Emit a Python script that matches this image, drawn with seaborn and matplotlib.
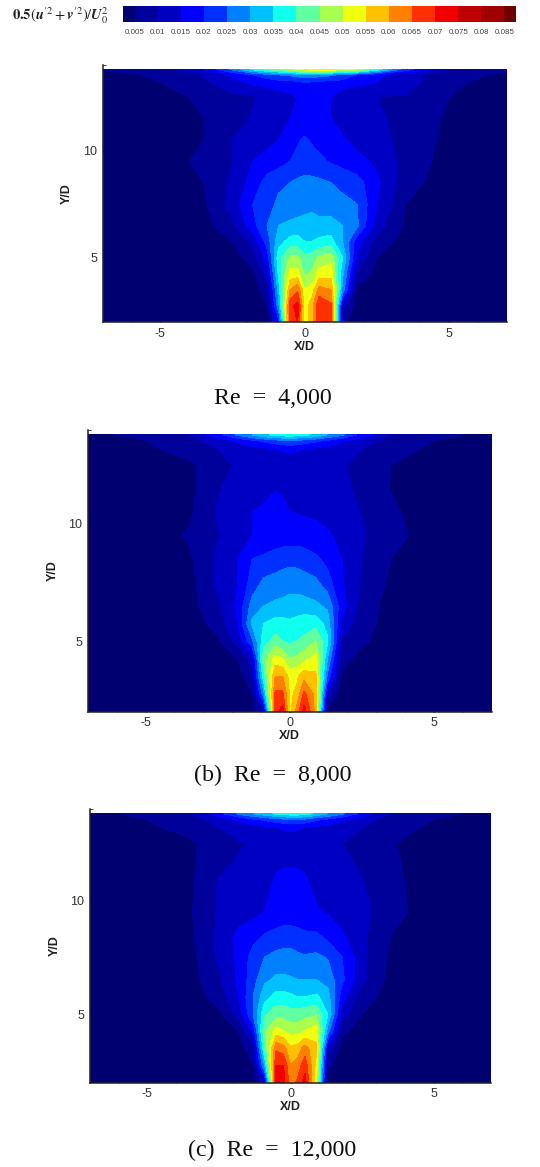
import numpy as np
import seaborn as sns
import matplotlib
matplotlib.use("Agg")
import matplotlib.pyplot as plt

sns.set_theme(style="ticks")
plt.rcParams['font.family'] = ['Liberation Sans', 'DejaVu Sans']
plt.rcParams['mathtext.fontset'] = 'stix'
plt.rcParams['axes.unicode_minus'] = False

# contour levels and legend colours
levels = [0.005, 0.01, 0.015, 0.02, 0.025, 0.03, 0.035, 0.04, 0.045, 0.05, 0.055,
          0.06, 0.065, 0.07, 0.075, 0.08, 0.085]
level_labels = ['0.005', '0.01', '0.015', '0.02', '0.025', '0.03', '0.035', '0.04', '0.045',
                '0.05', '0.055', '0.06', '0.065', '0.07', '0.075', '0.08', '0.085']
band_colors = ['#000070', '#00009a', '#0000c4', '#0000ff', '#0030ff', '#0080ff', '#00c0ff',
               '#10ffee', '#60ffa0', '#a8ff50', '#f0ff10', '#ffc000', '#ff8000', '#ff3000',
               '#f00000', '#c00000', '#a00000', '#700000']

# values are in 1/1000
x_d = [-7, -5, -3.5, -2.5, -1.8, -1.3, -0.9, -0.5, -0.25, 0, 0.25, 0.5, 0.9, 1.3, 1.8, 2.5, 3.5, 5, 7]
y_d = [2, 2.75, 3.5, 4.25, 5, 5.75, 6.5, 7.5, 8.5, 9.5, 10.5, 11.5, 12.5, 13.2, 13.55, 13.8]

re_4000 = [
    [1, 1, 1, 1, 1, 2, 18, 68, 70, 50, 58, 68, 70, 6, 2, 1, 1, 1, 1],
    [1, 1, 1, 1, 2, 5, 28, 68, 72, 52, 58, 69, 66, 12, 3, 2, 1, 1, 1],
    [1, 1, 1, 2, 3, 7, 32, 60, 64, 50, 52, 62, 60, 28, 4, 2, 1, 1, 1],
    [1, 1, 1, 2, 4, 12, 36, 52, 52, 44, 46, 52, 53, 31, 9, 3, 2, 1, 1],
    [1, 1, 2, 3, 7, 17, 38, 46, 46, 41, 42, 46, 48, 35, 14, 5, 2, 1, 1],
    [1, 1, 2, 5, 11, 22, 33, 37, 37, 35, 35, 36, 37, 30, 17, 8, 3, 1, 1],
    [1, 1, 3, 9, 18, 25, 30, 31, 31.5, 32, 33, 32, 32, 30, 26, 12, 4, 1, 1],
    [1, 2, 4, 12, 20, 23, 26, 27, 27.5, 28, 28, 27, 27, 26, 25, 15, 5, 2, 1],
    [1, 2, 5, 11, 17, 22, 24, 25, 26, 26.5, 26.5, 26, 25, 24, 22, 16, 7, 2, 1],
    [1, 3, 6, 10, 15, 17, 18, 20, 21, 22, 21.5, 21, 19.5, 18, 16.5, 14, 8, 3, 1],
    [1, 3, 5, 10, 12, 13, 15, 17.5, 19.5, 20.5, 19.5, 18.5, 17, 15.5, 13.5, 11.5, 8.5, 3.5, 1],
    [1, 3, 5, 8, 10.5, 11.5, 13, 15, 16.5, 17.5, 17, 16.5, 15, 13.5, 12, 10.5, 9, 4, 1],
    [1, 3, 6, 9, 9.5, 11.5, 12.5, 14, 15, 16, 15.8, 15.5, 15, 11, 10, 10, 9.5, 5, 2],
    [2, 5, 9, 13, 16, 17, 18, 18, 19, 20, 19.5, 19, 18, 18, 17, 15, 12, 6, 3],
    [3, 6, 10, 16, 20, 23, 25, 26, 27, 28, 28, 27, 26, 24, 20, 16, 12, 7, 4],
    [5, 8, 15, 26, 36, 41, 44, 48, 51, 52, 53, 53, 53, 52, 50, 38, 22, 10, 6],
]
re_8000 = [
    [1, 1, 1, 1, 1, 3, 10, 68, 72, 53, 62, 72, 58, 3, 1, 1, 1, 1, 1],
    [1, 1, 1, 1, 2, 5, 28, 66, 66, 54, 56, 66, 58, 12, 2, 1, 1, 1, 1],
    [1, 1, 1, 2, 3, 8, 38, 60, 60, 53, 54, 58, 56, 24, 4, 2, 1, 1, 1],
    [1, 1, 1, 2, 5, 12, 43, 52, 50, 45, 46, 48, 52, 30, 7, 3, 1, 1, 1],
    [1, 1, 1, 4, 12, 24, 38, 42, 40, 39, 40, 41, 45, 36, 10, 6, 2, 1, 1],
    [1, 1, 2, 7, 15, 31, 35, 37, 37, 36, 37, 38, 38, 33, 14, 7, 3, 1, 1],
    [1, 1, 3, 9, 16, 27, 30, 31, 31, 31.5, 32, 32, 31, 29, 17, 8, 3, 1, 1],
    [1, 2, 3, 11, 15, 22, 26, 27, 28, 28.5, 28, 27, 26, 22, 15.5, 9.5, 4, 1, 1],
    [1, 2, 4, 11, 15, 20, 21, 22, 22.5, 23, 23, 22.5, 21, 18.5, 15, 10, 5, 1, 1],
    [1, 2, 5.5, 9.5, 13.5, 15, 16, 17, 17.5, 17.5, 17.5, 17, 16, 15.5, 14, 10.5, 7, 2, 1],
    [1, 2, 4, 10.5, 13, 15, 16, 16.5, 16, 15, 14.8, 14.5, 14.5, 13.5, 12, 9.8, 6, 2, 1],
    [1, 2, 3.5, 9.5, 12, 12, 13, 14.8, 14.5, 14, 14, 14, 13.5, 12, 11, 9, 4.8, 2, 1],
    [1, 2, 4, 8.5, 10.5, 11.5, 12.5, 12.5, 12.5, 12.5, 12.5, 12.5, 12.5, 11.5, 10.5, 8.5, 5, 2, 1],
    [2, 4, 7, 10, 12, 13, 14, 15, 15.5, 16, 15.5, 15, 14, 13, 12, 10, 7, 4, 2],
    [3, 5, 8, 12, 16, 19, 21, 23, 24, 25, 24, 23, 21, 19, 16, 12, 8, 5, 3],
    [4, 6, 10, 18, 26, 30, 34, 36, 37, 38, 37, 36, 34, 30, 26, 18, 10, 6, 4],
]
re_12000 = [
    [1, 1, 1, 1, 1, 3, 12, 72, 72, 62, 66, 72, 50, 3, 1, 1, 1, 1, 1],
    [1, 1, 1, 1, 2, 5, 30, 70, 70, 60, 62, 68, 53, 6, 2, 1, 1, 1, 1],
    [1, 1, 1, 2, 3, 8, 40, 64, 62, 56, 57, 62, 56, 12, 3, 2, 1, 1, 1],
    [1, 1, 1, 2, 5, 16, 44, 52, 50, 48, 48, 50, 53, 27, 6, 3, 1, 1, 1],
    [1, 1, 1, 4, 12, 25, 39, 43, 43, 42, 42, 43, 44, 35, 12, 5, 2, 1, 1],
    [1, 1, 2, 7, 15, 25, 33, 37, 37, 36, 35, 35, 36, 32, 17, 7, 3, 1, 1],
    [1, 1, 3, 9, 16, 23, 29, 31, 31, 30.5, 30, 30, 30, 28, 21, 11, 3, 1, 1],
    [1, 1, 3, 11, 16, 22, 25, 26.5, 27, 27, 26, 25.5, 26, 24.5, 20, 11.5, 4, 1, 1],
    [1, 2, 4, 11, 16, 18, 20, 21, 21.5, 21.5, 21, 20.5, 20.5, 18, 15.5, 11, 5, 1, 1],
    [1, 2, 4.5, 10.5, 12.5, 13.5, 15, 17, 17.5, 17.5, 17.5, 17, 15.5, 14.5, 13, 11.5, 7, 2, 1],
    [1, 2, 4, 10.5, 11.5, 12, 13.8, 16, 16.5, 16.5, 16.5, 16, 14, 12.5, 12, 10.5, 6.5, 2, 1],
    [1, 2, 4, 9.5, 10.5, 11, 12.5, 14.5, 14.8, 14.8, 14.8, 14.5, 12.5, 11.5, 11, 9.5, 6, 2, 1],
    [1, 2, 4, 8, 9.5, 10.5, 11.5, 12, 12.5, 12.5, 12.5, 12, 11.5, 11, 10, 9, 5.5, 2, 1],
    [2, 4, 7, 10, 12, 13, 14, 15, 15.5, 16, 15.5, 15, 14, 13, 12, 10, 7, 4, 2],
    [3, 5, 8, 12, 16, 19, 21, 23, 24, 25, 25, 24, 21, 19, 16, 12, 8, 5, 3],
    [4, 6, 10, 18, 26, 30, 33, 36, 37, 38, 38, 37, 34, 30, 26, 18, 10, 6, 4],
]

W, H = 540, 1167
fig = plt.figure(figsize=(W / 100, H / 100), dpi=100)


def px_axes(left, top, right, bottom):
    # axes box given in picture pixels
    return fig.add_axes([left / W, 1 - bottom / H, (right - left) / W, (bottom - top) / H])


def draw_panel(ax, z):
    z = np.array(z) / 1000.0
    cs = ax.contourf(x_d, y_d, z, levels=[0] + levels + [1], colors=band_colors)
    cs.set_edgecolor('face')
    cs.set_linewidth(0.3)
    ax.set_xlim(-7, 7)
    ax.set_ylim(2, 14)
    ax.set_xticks([-5, 0, 5])
    ax.set_yticks([5, 10])
    ax.set_xticks(np.arange(-6, 7, 1), minor=True)
    ax.set_yticks(np.arange(3, 15, 1), minor=True)
    sns.despine(ax=ax)
    for side in ['left', 'bottom']:
        ax.spines[side].set_linewidth(1.1)
        ax.spines[side].set_color('#222222')
    ax.tick_params(which='major', direction='in', length=6, width=1.0, color='black',
                   labelsize=9, labelcolor='#333333', pad=4)
    ax.tick_params(which='minor', direction='in', length=2.5, width=0.6, color='#222222')
    ax.set_xlabel('X/D', fontsize=9, fontweight='bold', color='#222222', labelpad=1)
    ax.set_ylabel('Y/D', fontsize=9, fontweight='bold', color='#222222', labelpad=7)


draw_panel(px_axes(102.5, 65, 507, 322), re_4000)
draw_panel(px_axes(88, 430, 491.5, 711.5), re_8000)
draw_panel(px_axes(90, 809, 491, 1082.5), re_12000)

# legend strip along the top
cb = px_axes(123, 6, 516, 22)
sns.heatmap(np.arange(18).reshape(1, -1), ax=cb, cmap=sns.color_palette(band_colors), cbar=False,
            xticklabels=False, yticklabels=False)
cb.set_xlim(0.5, 17.5)
cb.set_xticks(np.arange(1, 18))
cb.set_xticklabels(level_labels, fontsize=5.8, color='#444444')
cb.tick_params(axis='x', length=0, pad=5)
cb.set_yticks([])

fig.text(12 / W, 1 - 16 / H,
         r"$\mathbf{0.5}(\mathbfit{u}^{\prime 2}+\mathbfit{v}^{\prime 2})/\mathbfit{U}_{0}^{2}$",
         fontsize=10.5, va='center', ha='left', color='#222222')

for cap, px_y in [('Re  =  4,000', 399), ('(b)  Re  =  8,000', 775), ('(c)  Re  =  12,000', 1150)]:
    fig.text(272.5 / W, 1 - px_y / H, cap, fontsize=17.3, ha='center', va='center',
             family=['Liberation Serif'], color='#111111')

fig.savefig('out.png', dpi=100)
